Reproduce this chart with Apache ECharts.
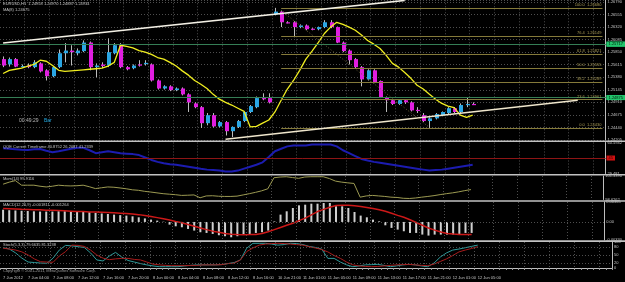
<!DOCTYPE html>
<html><head><meta charset="utf-8">
<script src="https://cdn.jsdelivr.net/npm/echarts@6/dist/echarts.min.js"></script>
<style>html,body{margin:0;padding:0;background:#000;overflow:hidden}#c{width:625px;height:282px}</style>
</head><body><div id="c"></div>
<script>
// ---- time axis ----
const tickLabels = ['7 Jun 2012','7 Jun 04:00','7 Jun 08:00','7 Jun 12:00','7 Jun 16:00','7 Jun 20:00','8 Jun 00:00','8 Jun 04:00','8 Jun 08:00','8 Jun 12:00','8 Jun 16:00','10 Jun 21:00','11 Jun 01:00','11 Jun 05:00','11 Jun 09:00','11 Jun 13:00','11 Jun 17:00','11 Jun 21:00','12 Jun 01:00','12 Jun 05:00'];
const SLOTS = 98; // bar slots incl. empty right margin
const slots = Array.from({length: SLOTS}, (_, i) => String(i));

// ---- EURUSD H1 candles ----
const opens  = [1.2572,1.2562,1.2572,1.2558,1.2560,1.2557,1.2564,1.2551,1.2540,1.2557,
                1.2583,1.2588,1.2583,1.2587,1.2603,1.2557,1.2562,1.2560,1.2583,1.2598,
                1.2557,1.2555,1.2562,1.2564,1.2562,1.2532,1.2517,1.2521,1.2514,1.2517,
                1.2506,1.2489,1.2482,1.2452,1.2467,1.2446,1.2454,1.2437,1.2445,1.2456,
                1.2473,1.2482,1.2499,1.2499,1.2656,1.2661,1.2641,1.2641,1.2632,1.2635,
                1.2629,1.2628,1.2632,1.2641,1.2632,1.2603,1.2588,1.2572,1.2557,1.2534,
                1.2551,1.2531,1.2501,1.2495,1.2488,1.2495,1.2491,1.2477,1.2467,1.2456,
                1.2461,1.2467,1.2471,1.2480,1.2473,1.2487,1.2488];
const closes = [1.2560,1.2572,1.2558,1.2559,1.2557,1.2566,1.2549,1.2540,1.2557,1.2583,
                1.2588,1.2585,1.2588,1.2603,1.2557,1.2560,1.2559,1.2585,1.2598,1.2557,
                1.2553,1.2560,1.2560,1.2565,1.2532,1.2517,1.2521,1.2514,1.2517,1.2506,
                1.2491,1.2482,1.2452,1.2467,1.2446,1.2454,1.2437,1.2445,1.2456,1.2473,
                1.2484,1.2499,1.2498,1.2491,1.2661,1.2641,1.2640,1.2632,1.2635,1.2628,
                1.2628,1.2632,1.2641,1.2632,1.2603,1.2587,1.2570,1.2557,1.2534,1.2551,
                1.2529,1.2501,1.2495,1.2488,1.2495,1.2491,1.2476,1.2476,1.2456,1.2461,
                1.2469,1.2473,1.2480,1.2473,1.2486,1.2488,1.2487];
const lows   = [1.2557,1.2558,1.2557,1.2557,1.2555,1.2555,1.2547,1.2532,1.2538,1.2555,
                1.2566,1.2560,1.2579,1.2585,1.2551,1.2538,1.2555,1.2557,1.2581,1.2555,
                1.2551,1.2553,1.2558,1.2560,1.2530,1.2515,1.2515,1.2512,1.2512,1.2504,
                1.2473,1.2480,1.2443,1.2448,1.2444,1.2444,1.2429,1.2426,1.2443,1.2454,
                1.2471,1.2480,1.2495,1.2489,1.2654,1.2632,1.2639,1.2613,1.2630,1.2626,
                1.2626,1.2626,1.2630,1.2630,1.2602,1.2585,1.2562,1.2555,1.2521,1.2532,
                1.2527,1.2499,1.2473,1.2486,1.2486,1.2488,1.2474,1.2471,1.2454,1.2443,
                1.2459,1.2465,1.2469,1.2471,1.2471,1.2482,1.2486];
const highs  = [1.2577,1.2575,1.2574,1.2562,1.2564,1.2570,1.2566,1.2553,1.2559,1.2590,
                1.2602,1.2598,1.2592,1.2607,1.2605,1.2564,1.2566,1.2611,1.2602,1.2602,
                1.2559,1.2562,1.2570,1.2570,1.2564,1.2534,1.2523,1.2523,1.2519,1.2519,
                1.2508,1.2491,1.2484,1.2471,1.2471,1.2456,1.2456,1.2446,1.2458,1.2474,
                1.2486,1.2502,1.2508,1.2508,1.2668,1.2663,1.2643,1.2643,1.2637,1.2637,
                1.2630,1.2633,1.2645,1.2645,1.2633,1.2605,1.2590,1.2574,1.2559,1.2553,
                1.2553,1.2532,1.2502,1.2497,1.2497,1.2497,1.2493,1.2482,1.2471,1.2463,
                1.2471,1.2474,1.2482,1.2482,1.2489,1.2500,1.2491];
// yellow moving average
const maLine = [1.2545,1.2551,1.2553,1.2555,1.2559,1.2562,1.2570,1.2568,1.2560,1.2551,
                1.2549,1.2550,1.2551,1.2552,1.2553,1.2554,1.2555,1.2559,1.2566,1.2598,
                1.2596,1.2593,1.2588,1.2585,1.2581,1.2575,1.2572,1.2566,1.2559,1.2550,
                1.2542,1.2532,1.2525,1.2517,1.2506,1.2497,1.2491,1.2486,1.2480,1.2474,
                1.2445,1.2446,1.2452,1.2458,1.2473,1.2495,1.2516,1.2532,1.2551,1.2572,
                1.2587,1.2603,1.2620,1.2632,1.2641,1.2637,1.2632,1.2626,1.2617,1.2607,
                1.2600,1.2592,1.2579,1.2564,1.2557,1.2547,1.2536,1.2523,1.2516,1.2506,
                1.2497,1.2489,1.2484,1.2481,1.2467,1.2463,1.2467];
// horizontal lines (green) and fibonacci
const hLines = [1.26203,1.25717,1.25436,1.24875,1.24296];
const fibHigh = 1.26680, fibLow = 1.24430;
const fibLevels = [100.0,76.4,61.8,50.0,38.2,23.6,0.0];

// ---- indicators ----
const qqe = [54.76,54.27,53.79,53.30,53.11,53.79,54.08,52.33,50.87,51.84,
             53.11,54.27,55.24,55.24,52.81,49.90,50.87,51.84,50.87,49.90,
             49.41,48.93,47.95,45.52,43.09,41.15,39.69,38.72,38.23,37.26,
             36.29,35.32,34.34,33.37,32.89,32.40,31.43,31.43,32.40,34.34,
             36.29,38.23,40.67,46.00,51.84,54.30,56.70,57.67,57.67,57.67,
             58.65,58.65,58.65,58.65,56.70,52.81,49.90,46.98,44.07,42.59,
             41.15,40.18,39.20,38.23,37.26,36.29,35.32,34.34,33.37,32.40,
             32.89,33.37,34.34,35.32,36.29,37.26,38.23];
const mom = [100.395,100.631,100.808,100.277,100.277,100.277,100.159,100.076,100.159,100.277,
             100.218,100.194,100.218,100.277,100.100,99.888,99.982,100.076,100.041,99.958,
             99.864,99.746,99.687,99.569,99.486,99.392,99.298,99.239,99.180,99.097,
             99.121,99.156,98.826,99.038,99.062,99.003,98.979,98.979,99.015,99.156,
             99.298,99.451,99.628,99.864,101.138,101.221,101.256,101.162,101.068,101.221,
             101.256,101.256,101.256,101.044,100.749,100.631,100.548,100.478,98.896,99.038,
             99.097,99.038,98.979,98.896,98.861,98.767,98.743,98.802,98.896,98.979,
             99.073,99.191,99.298,99.392,99.510,99.652,99.770];
const macdHist = [0.00224,0.00215,0.00210,0.00205,0.00200,0.00195,0.00190,0.00190,0.00190,0.00195,
                  0.00195,0.00195,0.00195,0.00190,0.00180,0.00164,0.00155,0.00146,0.00134,0.00125,
                  0.00116,0.00103,0.00085,0.00065,0.00043,0.00024,0.00005,-0.00049,-0.00079,-0.00097,
                  -0.00128,-0.00158,-0.00188,-0.00201,-0.00219,-0.00243,-0.00261,-0.00280,-0.00261,-0.00231,
                  -0.00219,-0.00201,-0.00188,-0.00158,0.00010,0.00134,0.00195,0.00255,0.00304,0.00316,
                  0.00334,0.00334,0.00347,0.00347,0.00286,0.00286,0.00255,0.00182,0.00116,0.00085,
                  0.00043,0.00012,-0.00061,-0.00109,-0.00140,-0.00170,-0.00201,-0.00201,-0.00231,-0.00249,
                  -0.00231,-0.00231,-0.00231,-0.00231,-0.00219,-0.00201,-0.00201];
const macdSignal = [0.00245,0.00242,0.00238,0.00233,0.00229,0.00225,0.00221,0.00216,0.00212,0.00208,
                    0.00203,0.00198,0.00193,0.00189,0.00184,0.00181,0.00178,0.00173,0.00167,0.00161,
                    0.00155,0.00147,0.00134,0.00118,0.00100,0.00079,0.00057,0.00035,0.00010,-0.00014,
                    -0.00045,-0.00080,-0.00110,-0.00140,-0.00168,-0.00190,-0.00212,-0.00225,-0.00231,-0.00232,
                    -0.00231,-0.00228,-0.00210,-0.00180,-0.00140,-0.00100,-0.00060,-0.00025,0.00025,0.00070,
                    0.00130,0.00190,0.00230,0.00270,0.00300,0.00304,0.00304,0.00295,0.00282,0.00265,
                    0.00245,0.00225,0.00195,0.00160,0.00120,0.00085,0.00040,-0.00010,-0.00060,-0.00110,
                    -0.00150,-0.00185,-0.00210,-0.00222,-0.00229,-0.00231,-0.00231];
const stochMain = [78,73,58,38,23,21,19,18,38,69, 87,85,82,79,58,31,27,46,60,42,
                   29,23,17,12,8,5,5,5,5,8, 10,12,12,12,12,13,17,21,31,76,
                   95,95,95,92,88,90,95,94,90,83, 79,73,37,37,23,12,5,8,12,13,
                   14,10,5,8,12,14,12,8,5,19, 42,58,69,73,78,83,88];
const stochSignal = [76,73,69,62,50,35,24,23,22,46, 63,88,87,83,69,50,38,32,35,37,
                     37,33,31,23,15,12,10,9,9,9, 10,10,12,12,12,13,17,19,31,63,
                     77,88,92,94,95,94,92,90,88,82, 77,71,62,48,37,23,12,8,6,5,
                     6,8,10,12,13,14,12,10,9,15, 25,35,48,62,69,75,82];

// ---- styling ----
const FONT = 'Liberation Sans';
const FS = 4;
const TXT = '#c4c4c4';
const GRIDC = '#4e4e4e';
const BULL = '#2aa6e4', BEAR = '#e01ee0', WICK = '#bcbcbc';

const candleData = opens.map((o, i) => [i, o, closes[i], lows[i], highs[i]]);

function renderCandle(params, api) {
  const i = api.value(0), o = api.value(1), c = api.value(2), l = api.value(3), h = api.value(4);
  const pO = api.coord([i, o]), pC = api.coord([i, c]), pL = api.coord([i, l]), pH = api.coord([i, h]);
  const bw = Math.max(2, Math.round(api.size([1, 0])[0] * 0.62));
  const x = Math.round(pO[0]) + 0.5;
  const top = Math.min(pO[1], pC[1]), bot = Math.max(pO[1], pC[1]);
  return {type: 'group', children: [
    {type: 'line', shape: {x1: x, y1: pH[1], x2: x, y2: pL[1]}, style: {stroke: WICK, lineWidth: 1}},
    {type: 'rect', shape: {x: Math.round(x - bw / 2), y: top, width: bw, height: Math.max(1.2, bot - top)},
     style: {fill: c >= o ? BULL : BEAR}}
  ]};
}

const G = [
  {left: 0, right: 13, top: 0, height: 140},
  {left: 0, right: 13, top: 142.5, height: 31},
  {left: 0, right: 13, top: 176, height: 23.5},
  {left: 0, right: 13, top: 202, height: 38},
  {left: 0, right: 13, top: 242, height: 26}
];

function xAx(k) {
  const last = k === 4;
  return {
    type: 'category', gridIndex: k, data: slots, boundaryGap: true,
    axisLine: {show: last, lineStyle: {color: '#bdbdbd', width: 1}},
    axisTick: {show: last, interval: 0, length: 2, lineStyle: {color: '#9a9a9a'}},
    axisLabel: {show: last, interval: (i) => i % 4 === 0 && i / 4 < tickLabels.length,
      formatter: (v, i) => tickLabels[i / 4], align: 'left', margin: 8,
      color: TXT, fontSize: FS, fontFamily: FONT},
    splitLine: {show: true, interval: (i) => i % 4 === 0 && i > 0,
      lineStyle: {color: GRIDC, type: [1, 2], width: 1}}
  };
}
function yAx(k, o) {
  return Object.assign({
    type: 'value', gridIndex: k, position: 'right', scale: true,
    axisLine: {show: true, lineStyle: {color: '#bdbdbd', width: 1}},
    axisTick: {show: false},
    splitLine: {show: false}
  }, o);
}
const lblBase = {color: TXT, fontSize: FS, fontFamily: FONT, margin: 2};

const fibLines = fibLevels.map(lv => {
  const p = fibLow + (fibHigh - fibLow) * lv / 100;
  return [
    {coord: [45, p], lineStyle: {color: '#857a3a', width: 1, type: 'solid'},
     label: {show: true, position: 'insideEndTop', distance: 1, formatter: lv.toFixed(1) + '  ' + p.toFixed(5),
       color: '#a89a55', fontSize: FS, fontFamily: FONT}},
    {coord: [97, p]}
  ];
});
const greenLines = hLines.map(p => ({
  yAxis: p, lineStyle: {color: '#357e55', width: 1, type: 'solid'},
  label: {show: true, position: 'end', distance: 1, formatter: p.toFixed(5), color: '#001a08',
    backgroundColor: '#22c46c', padding: [1, 2, 0, 2], fontSize: FS, fontFamily: FONT}
}));
const trendLines = [
  [{coord: [0, 1.2602], lineStyle: {color: '#f2efe4', width: 1.5, type: 'solid'}}, {coord: [65, 1.2682]}],
  [{coord: [36, 1.2422], lineStyle: {color: '#efe6cc', width: 1.5, type: 'solid'}}, {coord: [93, 1.2495]}],
  [{coord: [45, 1.2663], lineStyle: {color: '#6e6438', width: 1, type: [1, 2]}}, {coord: [69, 1.2444]}]
];

const option = {
  backgroundColor: '#000',
  animation: false,
  grid: G,
  xAxis: [0, 1, 2, 3, 4].map(xAx),
  yAxis: [
    yAx(0, {min: 1.24205, max: 1.26822, interval: 0.00235,
      axisLabel: Object.assign({}, lblBase, {showMaxLabel: false, formatter: v => v.toFixed(5)}),
      splitLine: {show: true, lineStyle: {color: GRIDC, type: [1, 2]}}}),
    yAx(1, {min: 29.481, max: 60.5942, interval: 31.1132,
      axisLabel: Object.assign({}, lblBase, {formatter: v => (v > 50 ? '60.5942' : '29.481')})}),
    yAx(2, {min: 98.6262, max: 101.339, interval: 2.7128,
      axisLabel: Object.assign({}, lblBase, {formatter: v => (v > 100 ? '101.3390' : '98.6262')})}),
    yAx(3, {min: -0.0033, max: 0.00365, interval: 0.0033,
      axisLabel: Object.assign({}, lblBase, {formatter: v => Math.abs(v) < 1e-9 ? '0.00' : (Math.abs(v - 0.0033) < 1e-9 ? '' : v.toFixed(5))})}),
    yAx(4, {min: 0, max: 100, interval: 10,
      axisLabel: Object.assign({}, lblBase, {formatter: v => ([0, 20, 50, 80, 100].includes(Math.round(v)) ? String(Math.round(v)) : '')})})
  ],
  series: [
    {type: 'custom', xAxisIndex: 0, yAxisIndex: 0, renderItem: renderCandle, data: candleData,
     encode: {x: 0, y: [1, 2, 3, 4]}, z: 3},
    {type: 'line', xAxisIndex: 0, yAxisIndex: 0, data: maLine, showSymbol: false, symbol: 'none',
     lineStyle: {color: '#f0ee20', width: 1.3}, z: 4,
     markLine: {silent: true, symbol: ['none', 'none'], animation: false,
       data: greenLines.concat(fibLines, trendLines)}},
    {type: 'line', xAxisIndex: 1, yAxisIndex: 1, data: qqe, symbol: 'none',
     lineStyle: {color: '#1c1cb0', width: 2},
     markLine: {silent: true, symbol: ['none', 'none'],
       data: [{yAxis: 45, lineStyle: {color: '#8e1515', width: 1, type: 'solid'},
         label: {show: true, position: 'end', distance: 1, formatter: '45', color: '#300', backgroundColor: '#d01010',
           padding: [1, 2, 0, 2], fontSize: FS, fontFamily: FONT}}]}},
    {type: 'line', xAxisIndex: 2, yAxisIndex: 2, data: mom, symbol: 'none',
     lineStyle: {color: '#9c9a52', width: 1}},
    {type: 'bar', xAxisIndex: 3, yAxisIndex: 3, data: macdHist, barWidth: 2,
     itemStyle: {color: '#cfcfcf'}},
    {type: 'line', xAxisIndex: 3, yAxisIndex: 3, data: macdSignal, symbol: 'none',
     lineStyle: {color: '#cc1818', width: 1.5},
     markLine: {silent: true, symbol: ['none', 'none'], label: {show: false},
       data: [{yAxis: 0, lineStyle: {color: GRIDC, type: [1, 2], width: 1}}]}},
    {type: 'line', xAxisIndex: 4, yAxisIndex: 4, data: stochMain, symbol: 'none',
     lineStyle: {color: '#2f9a9a', width: 1},
     markLine: {silent: true, symbol: ['none', 'none'], label: {show: false},
       data: [20, 50, 80].map(v => ({yAxis: v, lineStyle: {color: GRIDC, type: [1, 2], width: 1}}))}},
    {type: 'line', xAxisIndex: 4, yAxisIndex: 4, data: stochSignal, symbol: 'none',
     lineStyle: {color: '#a81c1c', width: 1}}
  ],
  graphic: [
    {type: 'rect', z: 50, shape: {x: 0, y: 140.5, width: 625, height: 1.6}, style: {fill: '#c2c2c2'}},
    {type: 'rect', z: 50, shape: {x: 0, y: 174, width: 625, height: 1.4}, style: {fill: '#c2c2c2'}},
    {type: 'rect', z: 50, shape: {x: 0, y: 200.2, width: 625, height: 1.6}, style: {fill: '#c2c2c2'}},
    {type: 'rect', z: 50, shape: {x: 0, y: 240.3, width: 625, height: 1.6}, style: {fill: '#c2c2c2'}},
    {type: 'text', z: 60, left: 3, top: 1.5, style: {text: 'EURUSD,H1  1.24958 1.24970 1.24887 1.24934', fill: TXT, font: FS + 'px ' + FONT}},
    {type: 'text', z: 60, left: 3, top: 7.5, style: {text: 'MA(8) 1.24675', fill: TXT, font: FS + 'px ' + FONT}},
    {type: 'text', z: 60, left: 19, top: 118.5, style: {text: '00:49:29', fill: '#b8b8b8', font: '5px ' + FONT}},
    {type: 'text', z: 60, left: 44, top: 118.5, style: {text: 'Bar', fill: '#22a8e0', font: '5px ' + FONT}},
    {type: 'text', z: 60, left: 3, top: 145, style: {text: 'QQE Current Timeframe 40.8752 26.2087 41.2339', fill: TXT, font: FS + 'px ' + FONT}},
    {type: 'text', z: 60, left: 3, top: 176.6, style: {text: 'Mom(14) 99.9116', fill: TXT, font: FS + 'px ' + FONT}},
    {type: 'text', z: 60, left: 3, top: 203.2, style: {text: 'MACD(12,26,9) -0.001811 -0.001264', fill: TXT, font: FS + 'px ' + FONT}},
    {type: 'text', z: 60, left: 3, top: 243.2, style: {text: 'Stoch(5,3,3) 79.6635 81.3238', fill: TXT, font: FS + 'px ' + FONT}},
    {type: 'text', z: 60, left: 3, top: 268.8, style: {text: 'Copyright \u00a9 2001-2011, MetaQuotes Software Corp.', fill: '#9a9a9a', font: FS + 'px ' + FONT}}
  ]
};

const chart = echarts.init(document.getElementById('c'), null, {renderer: 'canvas'});
chart.setOption(option);
</script>
</body></html>
